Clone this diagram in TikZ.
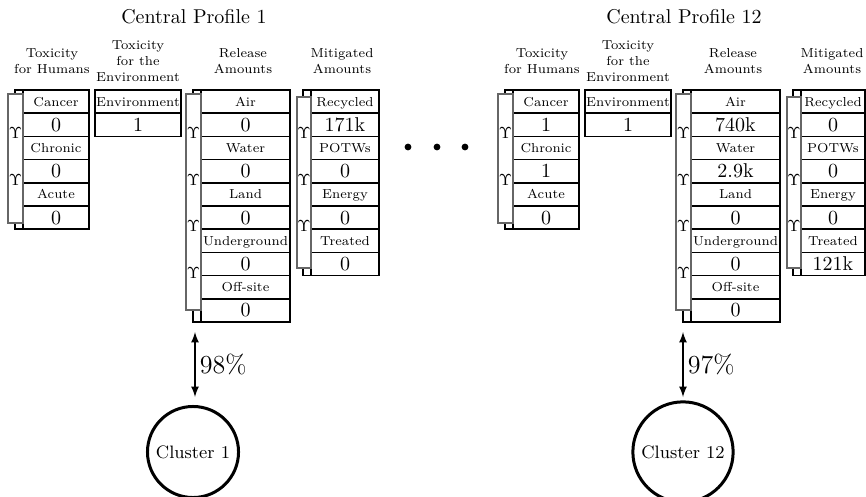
\documentclass[tikz,border=0pt]{standalone}
\usepackage{fontspec}
\usepackage{amsmath}

\newcommand{\cellfont}{\fontsize{6.5}{8}\selectfont}

\begin{document}
\begin{tikzpicture}[x=0.5pt,y=-0.5pt,
    cell/.style={draw,thick,fill=white,anchor=north west,inner sep=0pt,outer sep=0pt,minimum height=11.6pt},
    lab/.style={cell,font=\cellfont,text height=4.5pt,text depth=0pt},
    val/.style={cell,font=\normalsize,text height=6.5pt,text depth=0pt},
    frame/.style={draw,thick},
    bar/.style={draw=black!60,fill=white,semithick},
    ups/.style={inner sep=0pt,font=\fontsize{8.5}{10}\selectfont},
    head/.style={align=center,font=\cellfont},
    ttl/.style={font=\normalsize},
    pct/.style={thick,latex-latex},
    clus/.style={draw,circle,line width=1.5pt,font=\small},
    dot/.style={circle,fill=black,inner sep=0pt,minimum size=3.4pt}]
\useasboundingbox (0,0) rectangle (866,497);

% central profile 1
\node[ttl] (t1) at (194,17) {Central Profile 1};
\node[head] (hh1) at (52,61) {Toxicity\\for Humans};
\node[head] (he1) at (138,61) {Toxicity\\for the\\Environment};
\node[head] (hr1) at (243,61) {Release\\Amounts};
\node[head] (hm1) at (342,61) {Mitigated\\Amounts};

% humans
\draw[frame] (15,90) rectangle (89,229.2);
\foreach \l/\v [count=\i from 0] in {Cancer/0,Chronic/0,Acute/0}{
  \node[lab,minimum width=33pt] (h1l\i) at (23,{90+46.4*\i}) {\l};
  \node[val,minimum width=33pt] (h1v\i) at (23,{113.2+46.4*\i}) {\v};
}
\draw[bar] (8,94) rectangle (23,223);
\foreach \i in {1,2}
  \node[ups] (h1y\i) at (15.5,{87+46.4*\i}) {$\Upsilon$};

% environment
\node[lab,minimum width=43pt] (e1l0) at (95,90) {Environment};
\node[val,minimum width=43pt] (e1v0) at (95,113.2) {1};

% release
\draw[frame] (193,90) rectangle (290,322);
\foreach \l/\v [count=\i from 0] in {Air/0,Water/0,Land/0,Underground/0,Off-site/0}{
  \node[lab,minimum width=44.5pt] (r1l\i) at (201,{90+46.4*\i}) {\l};
  \node[val,minimum width=44.5pt] (r1v\i) at (201,{113.2+46.4*\i}) {\v};
}
\draw[bar] (186,94) rectangle (201,310);
\foreach \i in {1,...,4}
  \node[ups] (r1y\i) at (193.5,{87+46.4*\i}) {$\Upsilon$};

% mitigated
\draw[frame] (303,90) rectangle (379,275.6);
\foreach \l/\v [count=\i from 0] in {Recycled/171k,POTWs/0,Energy/0,Treated/0}{
  \node[lab,minimum width=34pt] (m1l\i) at (311,{90+46.4*\i}) {\l};
  \node[val,minimum width=34pt] (m1v\i) at (311,{113.2+46.4*\i}) {\v};
}
\draw[bar] (297,97) rectangle (311,268);
\foreach \i in {1,...,3}
  \node[ups] (m1y\i) at (304,{87+46.4*\i}) {$\Upsilon$};

% cluster 1
\node[clus] (c1) at (193,452) {Cluster 1};
\coordinate (a1) at (195,332);
\coordinate (b1) at (195,397);
\draw[pct] (a1) -- (b1) node[midway,right,inner sep=2pt,font=\fontsize{13}{15}\selectfont] (p1) {98\%};

% dots
\foreach \x [count=\i] in {408,437,465}
  \node[dot] (d\i) at (\x,147) {};

% central profile 12
\begin{scope}[xshift=245pt]
\node[ttl] (t2) at (194,17) {Central Profile 12};
\node[head] (hh2) at (52,61) {Toxicity\\for Humans};
\node[head] (he2) at (138,61) {Toxicity\\for the\\Environment};
\node[head] (hr2) at (243,61) {Release\\Amounts};
\node[head] (hm2) at (342,61) {Mitigated\\Amounts};

\draw[frame] (15,90) rectangle (89,229.2);
\foreach \l/\v [count=\i from 0] in {Cancer/1,Chronic/1,Acute/0}{
  \node[lab,minimum width=33pt] (h2l\i) at (23,{90+46.4*\i}) {\l};
  \node[val,minimum width=33pt] (h2v\i) at (23,{113.2+46.4*\i}) {\v};
}
\draw[bar] (8,94) rectangle (23,223);
\foreach \i in {1,2}
  \node[ups] (h2y\i) at (15.5,{87+46.4*\i}) {$\Upsilon$};

\node[lab,minimum width=43pt] (e2l0) at (95,90) {Environment};
\node[val,minimum width=43pt] (e2v0) at (95,113.2) {1};

\draw[frame] (193,90) rectangle (290,322);
\foreach \l/\v [count=\i from 0] in {Air/740k,Water/2.9k,Land/0,Underground/0,Off-site/0}{
  \node[lab,minimum width=44.5pt] (r2l\i) at (201,{90+46.4*\i}) {\l};
  \node[val,minimum width=44.5pt] (r2v\i) at (201,{113.2+46.4*\i}) {\v};
}
\draw[bar] (186,94) rectangle (201,310);
\foreach \i in {1,...,4}
  \node[ups] (r2y\i) at (193.5,{87+46.4*\i}) {$\Upsilon$};

\draw[frame] (303,90) rectangle (375,275.6);
\foreach \l/\v [count=\i from 0] in {Recycled/0,POTWs/0,Energy/0,Treated/121k}{
  \node[lab,minimum width=32pt] (m2l\i) at (311,{90+46.4*\i}) {\l};
  \node[val,minimum width=32pt] (m2v\i) at (311,{113.2+46.4*\i}) {\v};
}
\draw[bar] (297,97) rectangle (311,268);
\foreach \i in {1,...,3}
  \node[ups] (m2y\i) at (304,{87+46.4*\i}) {$\Upsilon$};

\node[clus] (c2) at (193,452) {Cluster 12};
\coordinate (a2) at (193,332);
\coordinate (b2) at (193,397);
\draw[pct] (a2) -- (b2) node[midway,right,inner sep=2pt,font=\fontsize{13}{15}\selectfont] (p2) {97\%};
\end{scope}
\end{tikzpicture}
\end{document}
